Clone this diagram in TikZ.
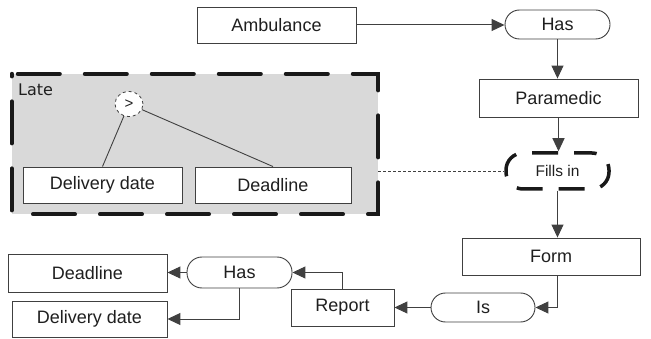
\documentclass[tikz,border=0pt]{standalone}
\usepackage{fontspec}
\setmainfont{Liberation Sans}
\newfontfamily\labelfont{DejaVu Sans}
\usetikzlibrary{arrows.meta,shapes.geometric,calc}
\definecolor{edgegray}{HTML}{404040}
\definecolor{regiongray}{HTML}{D9D9D9}
\tikzset{
  every node/.style={font=\fontsize{18}{20}\selectfont, text=black!88},
  box/.style={draw=edgegray, line width=0.9pt, fill=white, rectangle, inner sep=0pt},
  pill/.style={draw=edgegray, line width=0.9pt, fill=white, rectangle, rounded corners=#1, inner sep=0pt},
  arr/.style={draw=edgegray, line width=1pt, -{Triangle[length=13pt,width=12pt]}},
  link/.style={draw=edgegray, line width=0.9pt},
}
\begin{document}
\begin{tikzpicture}[x=1pt,y=-1pt]
\useasboundingbox (0,0) rectangle (651,339);

% the "Late" region with its thick dashed frame
\node[rectangle, fill=regiongray, minimum width=366pt, minimum height=140pt, inner sep=0pt] (late) at (195,144) {};
\draw[line width=4pt, line cap=round, dash pattern=on 42pt off 25pt, dash phase=-6pt, black!90]
  (late.north west) -- (late.north east) -- (late.south east) -- (late.south west) -- cycle;
\node[anchor=north west, font=\labelfont\fontsize{16}{18}\selectfont, inner sep=0pt] (latelbl) at (18,84) {Late};

\node[box, minimum width=159pt, minimum height=36pt] (idel) at (102.5,185) {Delivery date};
\node[box, minimum width=156pt, minimum height=36pt] (idead) at (273,185) {Deadline};
\node[ellipse, draw=edgegray, dashed, line width=0.8pt, fill=white, minimum width=28pt, minimum height=25pt, inner sep=0pt, font=\fontsize{15}{16}\selectfont] (cmp) at (129,104) {>};
\draw[link] (cmp) -- (idel.north);
\draw[link] (cmp) -- (idead.north);

% main chain
\node[box, minimum width=159pt, minimum height=36pt] (amb) at (276.5,25) {Ambulance};
\node[pill=14.5pt, minimum width=105pt, minimum height=29pt] (has1) at (557.5,24.5) {Has};
\node[box, minimum width=159pt, minimum height=38pt] (para) at (558.5,98) {Paramedic};
\node[rectangle, draw=black!90, line width=3.5pt, rounded corners=17pt, dash pattern=on 26pt off 16pt, dash phase=8pt,
      minimum width=103pt, minimum height=36pt, inner sep=0pt, font=\fontsize{15.5}{18}\selectfont] (fills) at (557.5,171) {Fills in};
\node[box, minimum width=178pt, minimum height=37pt] (form) at (551,256.5) {Form};
\node[pill=14.5pt, minimum width=104pt, minimum height=29pt] (is) at (483,307.5) {Is};
\node[box, minimum width=103pt, minimum height=37pt] (rep) at (342.5,307.5) {Report};
\node[pill=15pt, minimum width=105pt, minimum height=31pt] (has2) at (239.5,272.5) {Has};
\node[box, minimum width=159pt, minimum height=38pt] (dead2) at (87.5,273) {Deadline};
\node[box, minimum width=155pt, minimum height=36pt] (deliv2) at (89.5,319) {Delivery date};

\draw[arr] (amb.east) -- (has1.west |- amb.east);
\draw[arr] (has1.south) -- (has1.south |- para.north);
\draw[arr] (para.south) -- (para.south |- fills.north);
\draw[arr] (fills.south) -- (fills.south |- form.north);
\draw[arr] (form.south -| fills.south) |- (is.east);
\draw[arr] (is.west) -- (rep.east);
\draw[arr] (rep.north) |- (has2.east);
\draw[arr] (has2.west) -- (dead2.east |- has2.west);
\draw[arr] (has2.south) |- (deliv2.east);

% dashed link from the region to "Fills in"
\draw[edgegray, line width=0.8pt, dash pattern=on 3pt off 2pt] (late.east |- fills.west) -- (fills.west);
\end{tikzpicture}
\end{document}
